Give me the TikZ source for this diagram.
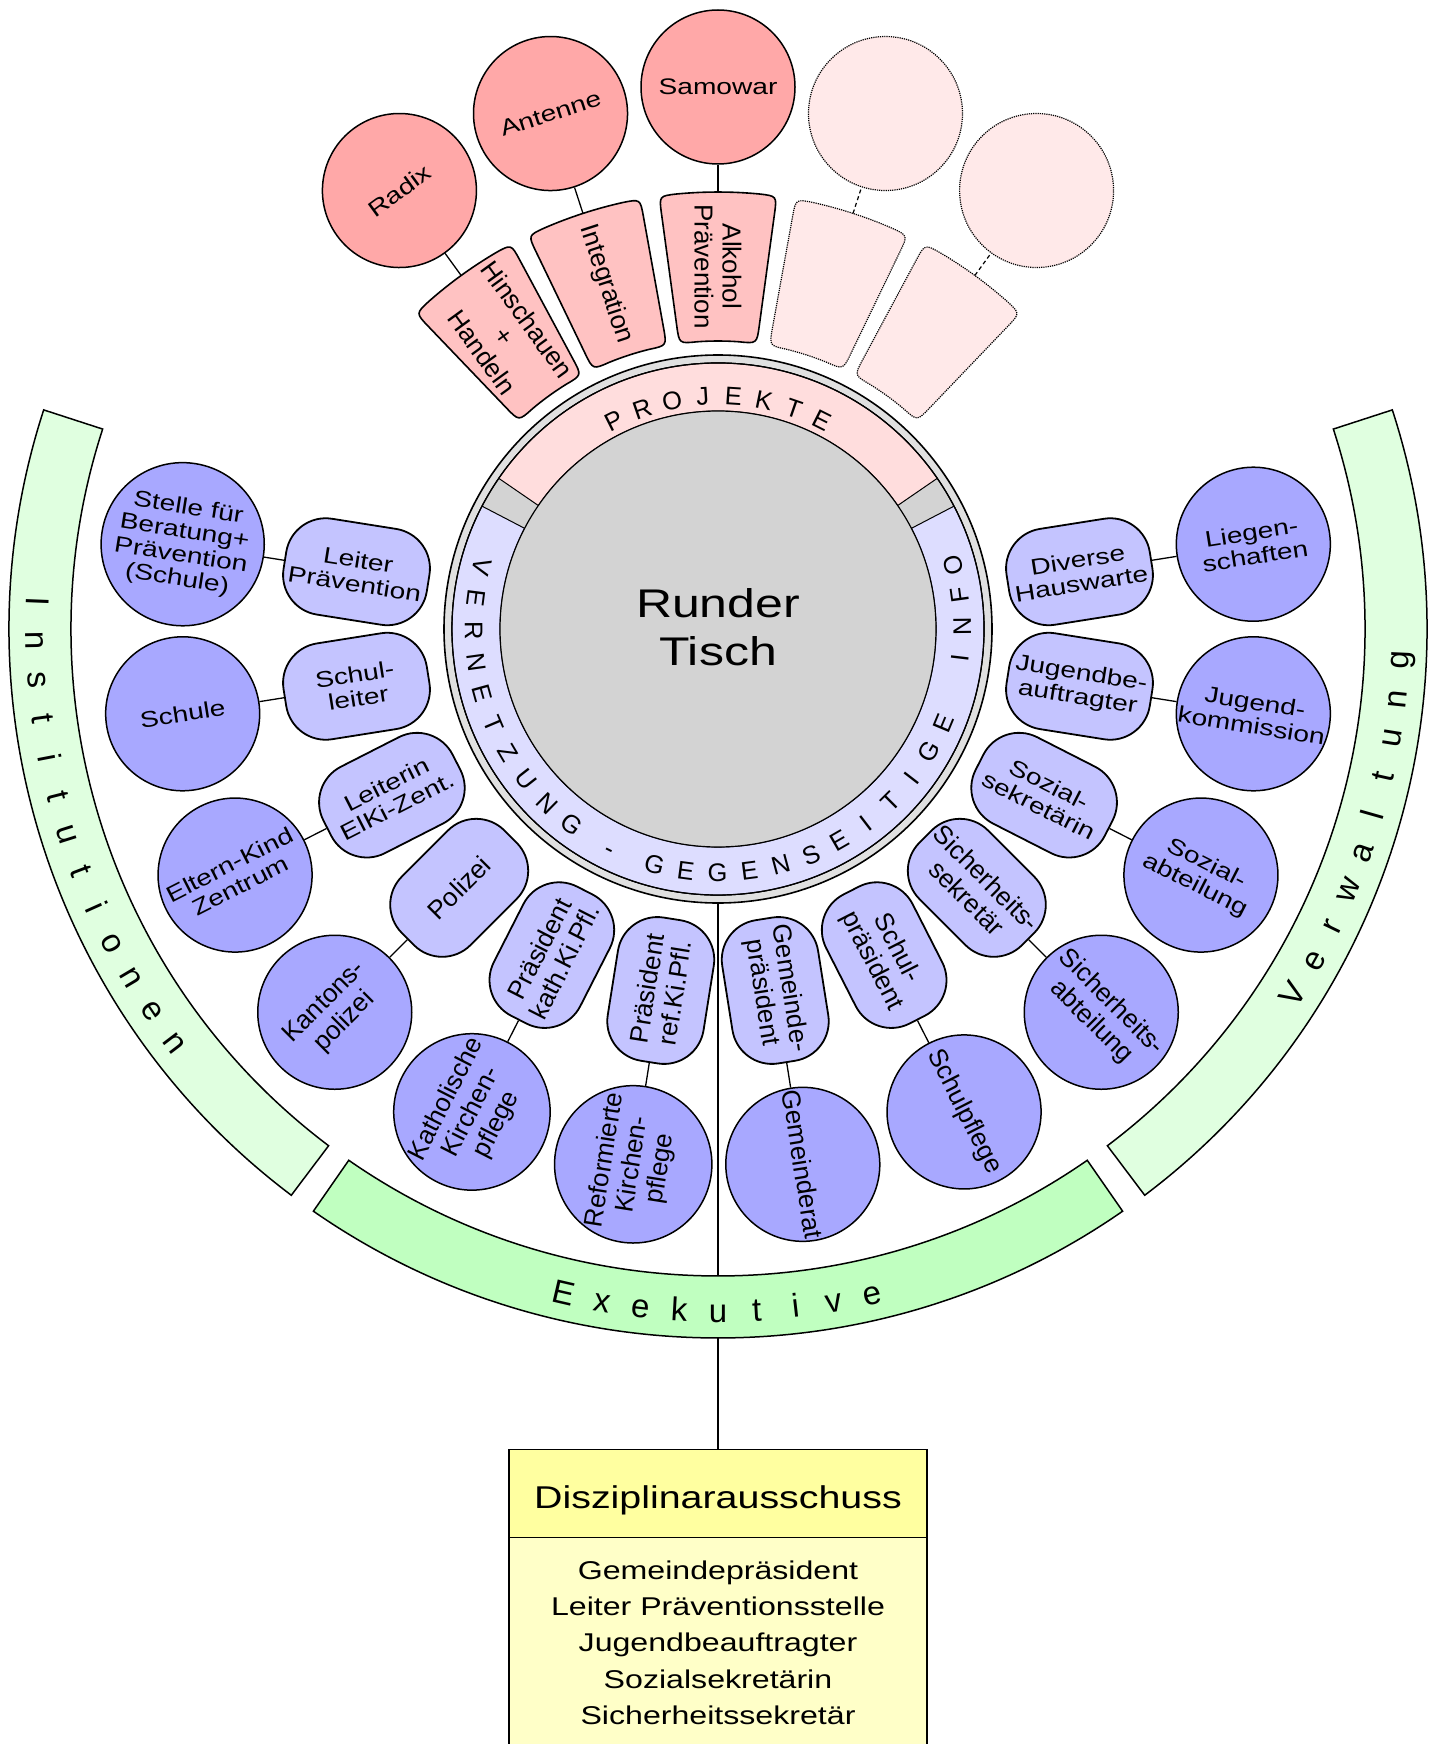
\documentclass[tikz,border=0pt]{standalone}
\usepackage{fontspec}
\setmainfont{Liberation Sans}
\newfontfamily\wfont{Liberation Sans}[FakeStretch=1.25]
\usetikzlibrary{calc}

\definecolor{circblue}{RGB}{168,168,255}
\definecolor{boxblue}{RGB}{196,196,255}
\definecolor{circred}{RGB}{255,168,168}
\definecolor{boxred}{RGB}{255,194,194}
\definecolor{ghost}{RGB}{255,233,233}
\definecolor{pinkband}{RGB}{255,221,221}
\definecolor{lavband}{RGB}{221,221,255}
\definecolor{discgray}{RGB}{211,211,211}
\definecolor{ringlight}{RGB}{224,224,224}
\definecolor{greenlight}{RGB}{224,255,224}
\definecolor{greenexe}{RGB}{192,255,192}
\definecolor{hdryellow}{RGB}{255,255,160}
\definecolor{bodyyellow}{RGB}{255,255,200}

\newcommand{\wtxt}{\wfont\fontsize{22.5}{24}\selectfont}
\newcommand{\ptxt}{\fontsize{26}{28}\selectfont}
\newcommand{\bigtxt}{\wfont\fontsize{40}{48}\selectfont}
\newcommand{\hdrtxt}{\wfont\fontsize{31.5}{36}\selectfont}
\newcommand{\memtxt}{\wfont\fontsize{25.7}{36.25}\selectfont}
\newcommand{\ringtxt}{\fontsize{25.5}{25.5}\selectfont}
\newcommand{\bandtxt}{\fontsize{33}{33}\selectfont}

\begin{document}
\begin{tikzpicture}[x=1pt,y=1pt,
  every node/.style={inner sep=0pt},
  frame/.style={line width=1.5pt},
  link/.style={line width=1.3pt},
  glink/.style={line width=1.2pt, dash pattern=on 4pt off 3pt},
  bcirc/.style={circle, draw, line width=1.5pt, fill=circblue, minimum size=154pt, align=center},
  bbox/.style={rectangle, rounded corners=40pt, draw, line width=1.8pt, fill=boxblue, minimum width=145pt, minimum height=97pt, align=center},
  rcirc/.style={circle, draw, line width=1.5pt, fill=circred, minimum size=154pt, align=center},
  gcirc/.style={circle, draw, line width=1.2pt, densely dotted, fill=ghost, minimum size=154pt},
  psecreal/.style={draw, line width=1.6pt, fill=boxred},
  psecghost/.style={draw, line width=1.2pt, densely dotted, fill=ghost},
  ringletter/.style={font=\ringtxt, anchor=base},
  bandletter/.style={font=\bandtxt, anchor=base},
  ringnode/.style={circle, draw, line width=1.6pt, fill=ringlight, minimum size=548pt},
  hdrbox/.style={draw, line width=1.5pt, fill=hdryellow, minimum width=418pt, minimum height=88pt, font=\hdrtxt, text height=30pt, text depth=0pt},
  memtext/.style={font=\memtxt, align=center, anchor=north},
  greenband/.style={draw, line width=1.5pt}
]
\useasboundingbox[fill=white] (0,0) rectangle (1439,-1744);

% ---------- Disziplinarausschuss ----------
\fill[bodyyellow] (509,-1537) rectangle (927,-1752);
\draw[frame] (509,-1537) -- (509,-1752);
\draw[frame] (927,-1537) -- (927,-1752);
\node[hdrbox] (dhead) at (718,-1493.3) {Disziplinarausschuss};
\node[memtext] (dbody) at (718,-1560.5) {Gemeindepräsident\\Leiter Präventionsstelle\\Jugendbeauftragter\\Sozialsekretärin\\Sicherheitssekretär};

\begin{scope}[shift={(718,-629)}]
% outer ring node
\node[ringnode] (ring) at (0,0) {};
\draw[link] (ring.south) -- (dhead.north);

% ---------- green bands ----------
\draw[greenband, fill=greenlight] (162:647) arc[start angle=162, end angle=233, radius=647]
   -- (233:709) arc[start angle=233, end angle=162, radius=709] -- cycle;
\draw[greenband, fill=greenexe] (235.2:647) arc[start angle=235.2, end angle=304.8, radius=647]
   -- (304.8:709) arc[start angle=304.8, end angle=235.2, radius=709] -- cycle;
\draw[greenband, fill=greenlight] (307:647) arc[start angle=307, end angle=378, radius=647]
   -- (378:709) arc[start angle=378, end angle=307, radius=709] -- cycle;

\foreach \ch [count=\k from 0] in {I,n,s,t,i,t,u,t,i,o,n,e,n}{
  \pgfmathsetmacro\a{197.5+3.3*(\k-6)}
  \pgfmathsetmacro\r{\a+90}
  \node[bandletter, rotate=\r] (in\k) at (\a:692) {\ch};
}
\foreach \ch [count=\k from 0] in {E,x,e,k,u,t,i,v,e}{
  \pgfmathsetmacro\a{270+3.26*(\k-4)}
  \pgfmathsetmacro\r{\a+90}
  \node[bandletter, rotate=\r] (ex\k) at (\a:693) {\ch};
}
\foreach \ch [count=\k from 0] in {V,e,r,w,a,l,t,u,n,g}{
  \pgfmathsetmacro\a{342.5+3.32*(\k-4.5)}
  \pgfmathsetmacro\r{\a+90}
  \node[bandletter, rotate=\r] (vw\k) at (\a:692) {\ch};
}

% ---------- central ring ----------
\draw[line width=1.2pt, fill=discgray] (0,0) circle[radius=266];
\draw[line width=1pt, fill=pinkband] (34.5:218) -- (34.5:266)
   arc[start angle=34.5, end angle=145.5, radius=266] -- (145.5:218)
   arc[start angle=145.5, end angle=34.5, radius=218] -- cycle;
\draw[line width=1pt, fill=lavband] (152.5:218) -- (152.5:266)
   arc[start angle=152.5, end angle=387.5, radius=266] -- (387.5:218)
   arc[start angle=387.5, end angle=152.5, radius=218] -- cycle;
\draw[line width=1.2pt] (0,0) circle[radius=266];
\draw[line width=1.2pt, fill=discgray] (0,0) circle[radius=218];
\node[font=\bigtxt, align=center] (tisch) at (0,2) {Runder\\Tisch};

\foreach \ch [count=\k from 0] in {P,R,O,J,E,K,T,E}{
  \pgfmathsetmacro\a{116.6-7.6*\k}
  \pgfmathsetmacro\r{\a-90}
  \node[ringletter, rotate=\r] (pj\k) at (\a:224) {\ch};
}
\foreach \ch/\a [count=\k] in {V/165.2, E/172.75, R/180.3, N/187.85, E/195.4, T/202.95, Z/210.5, U/218.05, N/225.6, G/233.15, -/243.8, G/254.9, E/262.4, G/269.9, E/277.4, N/284.9, S/292.4, E/299.9, I/307.4, T/314.9, I/322.4, G/329.9, E/337.4, I/353.3, N/360.6, F/367.9, O/375.2}{
  \pgfmathsetmacro\r{\a+90}
  \node[ringletter, rotate=\r] (vn\k) at (\a:253) {\ch};
}

% ---------- projects ----------
\foreach \ang/\sty in {126/real, 108/real, 90/real, 72/ghost, 54/ghost}{
  \pgfmathsetmacro\aL{\ang+7.75}
  \pgfmathsetmacro\aR{\ang-7.75}
  \pgfmathsetmacro\aLo{\ang+7.75-2.36}
  \pgfmathsetmacro\aRo{\ang-7.75+2.36}
  \pgfmathsetmacro\aLi{\ang+7.75-3.58}
  \pgfmathsetmacro\aRi{\ang-7.75+3.58}
  \draw[psec\sty] (\aLo:437) arc[start angle=\aLo, end angle=\aRo, radius=437]
    .. controls (\aR:437) .. (\aR:419)
    -- (\aR:306)
    .. controls (\aR:288) .. (\aRi:288)
    arc[start angle=\aRi, end angle=\aLi, radius=288]
    .. controls (\aL:288) .. (\aL:306)
    -- (\aL:419)
    .. controls (\aL:437) .. (\aLo:437) -- cycle;
}
\foreach \ang/\rot/\crot/\btxt/\ctxt [count=\k] in {126/-54/36/Hinschauen\\+\\Handeln/Radix, 108/-72/18/Integration/Antenne, 90/-90/0/Alkohol\\Prävention/Samowar}{
  \node[font=\ptxt, align=center, rotate=\rot] (pb\k) at (\ang:362.5) {\btxt};
  \coordinate (pt\k) at (\ang:437);
  \node[rcirc, rotate=\crot, font=\wtxt] (pc\k) at (\ang:542) {\ctxt};
  \draw[link] (pt\k) -- (pc\k);
}
\foreach \ang [count=\k] in {72,54}{
  \coordinate (gt\k) at (\ang:437);
  \node[gcirc] (gc\k) at (\ang:542) {};
  \draw[glink] (gt\k) -- (gc\k);
}

% ---------- blue nodes ----------
\foreach \ang/\rot/\btxt/\ctxt/\fnt [count=\k] in {
  171/-9/Leiter\\Prävention/Stelle für\\Beratung+\\Prävention\\(Schule)/\wtxt,
  189/9/Schul-\\leiter/Schule/\wtxt,
  207/27/Leiterin\\ElKi-Zent./Eltern-Kind\\Zentrum/\wtxt,
  225/45/Polizei/Kantons-\\polizei/\ptxt,
  243/63/Präsident\\kath.Ki.Pfl./Katholische\\Kirchen-\\pflege/\ptxt,
  261/81/Präsident\\ref.Ki.Pfl./Reformierte\\Kirchen-\\pflege/\ptxt,
  279/-81/Gemeinde-\\präsident/Gemeinderat/\ptxt,
  297/-63/Schul-\\präsident/Schulpflege/\ptxt,
  315/-45/Sicherheits-\\sekretär/Sicherheits-\\abteilung/\ptxt,
  333/-27/Sozial-\\sekretärin/Sozial-\\abteilung/\wtxt,
  351/-9/Jugendbe-\\auftragter/Jugend-\\kommission/\wtxt,
  9/9/Diverse\\Hauswarte/Liegen-\\schaften/\wtxt}{
  \node[bbox, rotate=\rot, font=\fnt] (bb\k) at (\ang:366) {\btxt};
  \node[bcirc, rotate=\rot, font=\fnt] (bc\k) at (\ang:542) {\ctxt};
  \draw[link] (bb\k) -- (bc\k);
}
\end{scope}
\end{tikzpicture}
\end{document}
